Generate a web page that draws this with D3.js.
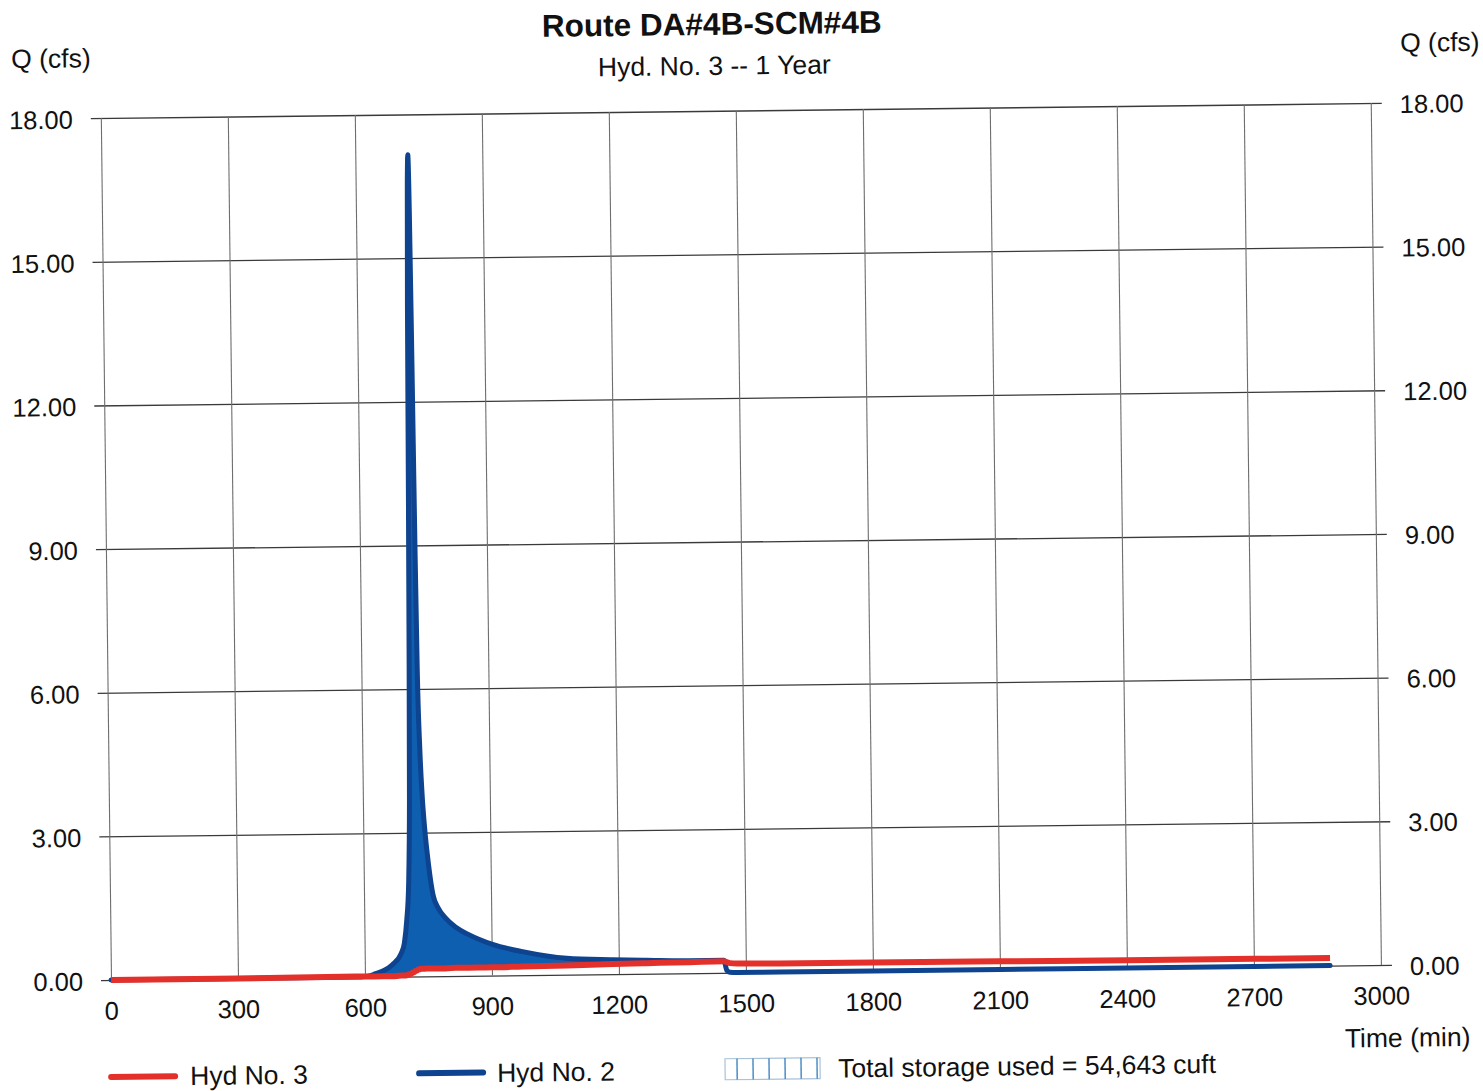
<!DOCTYPE html>
<html>
<head>
<meta charset="utf-8">
<script src="https://cdn.jsdelivr.net/npm/d3@7"></script>
<style>
  body { margin: 0; background: #fff; }
  text { font-family: "Liberation Sans", Arial, "DejaVu Sans", sans-serif; fill: #111; }
</style>
</head>
<body>
<svg id="chart" width="1483" height="1091"></svg>
<script>
// ---- chart text ----
const chartTitle = "Route DA#4B-SCM#4B";
const chartSubtitle = "Hyd. No. 3 -- 1 Year";
const yAxisLabel = "Q (cfs)";
const xAxisLabel = "Time (min)";
const legendLabels = ["Hyd No. 3", "Hyd No. 2", "Total storage used = 54,643 cuft"];

// ---- tick values ----
const xTicks = [0, 300, 600, 900, 1200, 1500, 1800, 2100, 2400, 2700, 3000];
const yTicks = [0, 3, 6, 9, 12, 15, 18];

// ---- hydrograph ordinates (time in min, flow in cfs) ----
const timeMin = [0, 300, 580, 600, 610, 620, 645, 665, 686, 694, 700, 706, 710, 713, 716, 719, 722, 724,
  726, 728, 730, 732, 736, 740, 745, 753, 763, 775, 791, 815, 844, 870, 902, 973, 1077, 1185, 1266,
  1367, 1448, 1455, 1462, 1480, 1580, 1800, 2100, 2400, 2700, 2880];
// Hyd No. 2 : inflow
const hydNo2 = [0, 0, 0, 0.01, 0.02, 0.05, 0.13, 0.25, 0.48, 0.70, 1.15, 2.0, 3.7, 6.5, 10.0, 14.0, 16.5, 17.16,
  16.0, 12.8, 9.0, 6.4, 4.7, 3.8, 3.1, 2.35, 1.7, 1.42, 1.22, 1.02, 0.87, 0.76, 0.65, 0.49, 0.34, 0.30, 0.28,
  0.26, 0.26, 0.05, 0.01, 0, 0, 0, 0, 0, 0, 0];
// Hyd No. 3 : routed outflow
const hydNo3 = [0, 0, 0.01, 0.01, 0.01, 0.01, 0.01, 0.01, 0.02, 0.02, 0.03, 0.05, 0.06, 0.08, 0.09, 0.11, 0.12, 0.13,
  0.14, 0.15, 0.15, 0.16, 0.16, 0.16, 0.16, 0.16, 0.16, 0.16, 0.16, 0.17, 0.17, 0.17, 0.17, 0.18, 0.19, 0.21, 0.22,
  0.23, 0.24, 0.22, 0.20, 0.19, 0.18, 0.18, 0.17, 0.16, 0.16, 0.16];

const rows = timeMin.map((t, i) => ({ t, inflow: hydNo2[i], outflow: hydNo3[i] }));

// ---- layout ----
const plotLeft = 111, plotRight = 1381, plotTop = 118, plotBottom = 980;
const redColor = "#e3302b", navy = "#0d438f", fillBlue = "#0f5fb0";

const svg = d3.select("#chart");
// the whole sheet sits with a slight counter-clockwise tilt
const g = svg.append("g").attr("transform", `rotate(-0.676, ${plotLeft}, ${plotBottom})`);

const x = d3.scaleLinear().domain([0, 3000]).range([plotLeft, plotRight]);
const y = d3.scaleLinear().domain([0, 18]).range([plotBottom, plotTop]);
const fmt = d3.format(".2f");
const fontFam = "'Liberation Sans', Arial, sans-serif";

// horizontal grid lines (extend past the frame as ticks on both sides)
g.append("g")
  .attr("transform", `translate(${plotLeft - 10},0)`)
  .call(d3.axisRight(y).tickValues(yTicks).tickSize(plotRight - plotLeft + 21).tickFormat(""))
  .call(a => a.select(".domain").remove())
  .call(a => a.selectAll("line").attr("stroke", "#3a3a3a").attr("stroke-width", 1.3));

// vertical grid lines + time labels
g.append("g")
  .attr("transform", `translate(0,${plotBottom})`)
  .call(d3.axisBottom(x).tickValues(xTicks).tickSize(-(plotBottom - plotTop)).tickPadding(21.5).tickFormat(d3.format("d")))
  .call(a => a.select(".domain").remove())
  .call(a => a.selectAll("line").attr("stroke", "#6e6e6e").attr("stroke-width", 1.1))
  .call(a => a.selectAll("text").attr("font-size", 25.5).attr("fill", "#111").style("font-family", fontFam));

// left and right flow labels
g.append("g")
  .attr("transform", `translate(${plotLeft},0)`)
  .call(d3.axisLeft(y).tickValues(yTicks).tickSize(0).tickPadding(28).tickFormat(fmt))
  .call(a => a.select(".domain").remove())
  .call(a => a.selectAll("text").attr("font-size", 25.5).attr("dy", "0.38em").attr("fill", "#111").style("font-family", fontFam));
g.append("g")
  .attr("transform", `translate(${plotRight},0)`)
  .call(d3.axisRight(y).tickValues(yTicks).tickSize(0).tickPadding(29).tickFormat(fmt))
  .call(a => a.select(".domain").remove())
  .call(a => a.selectAll("text").attr("font-size", 25.5).attr("dy", "0.38em").attr("fill", "#111").style("font-family", fontFam));

// storage area: between the inflow and outflow where inflow is higher
const storageArea = d3.area()
  .curve(d3.curveMonotoneX)
  .x(d => x(d.t))
  .y0(d => y(d.outflow))
  .y1(d => y(Math.max(d.inflow, d.outflow)));
g.append("path").datum(rows)
  .attr("d", storageArea)
  .attr("fill", fillBlue);

const lineOf = key => d3.line().curve(d3.curveMonotoneX).x(d => x(d.t)).y(d => y(d[key]));
g.append("path").datum(rows)
  .attr("d", lineOf("inflow"))
  .attr("fill", "none").attr("stroke", navy).attr("stroke-width", 5)
  .attr("stroke-linejoin", "round").attr("stroke-linecap", "round");
g.append("path").datum(rows)
  .attr("d", lineOf("outflow"))
  .attr("fill", "none").attr("stroke", redColor).attr("stroke-width", 6)
  .attr("stroke-linejoin", "round");

// titles and axis captions
g.append("text").attr("x", 723).attr("y", 42).attr("text-anchor", "middle")
  .attr("font-size", 31.5).attr("font-weight", "bold").text(chartTitle);
g.append("text").attr("x", 725).attr("y", 82).attr("text-anchor", "middle")
  .attr("font-size", 26.5).text(chartSubtitle);
g.append("text").attr("x", 22).attr("y", 67).attr("font-size", 26.5).text(yAxisLabel);
g.append("text").attr("x", 1411).attr("y", 67).attr("font-size", 26.5).text(yAxisLabel);
g.append("text").attr("x", 1344).attr("y", 1062).attr("font-size", 26.5).text(xAxisLabel);

// legend
const lg = g.append("g");
lg.append("line").attr("x1", 110).attr("x2", 174).attr("y1", 1077).attr("y2", 1077)
  .attr("stroke", redColor).attr("stroke-width", 6).attr("stroke-linecap", "round");
lg.append("text").attr("x", 189).attr("y", 1086).attr("font-size", 26.5).text(legendLabels[0]);
lg.append("line").attr("x1", 418).attr("x2", 482).attr("y1", 1077).attr("y2", 1077)
  .attr("stroke", navy).attr("stroke-width", 6).attr("stroke-linecap", "round");
lg.append("text").attr("x", 496).attr("y", 1086.5).attr("font-size", 26.5).text(legendLabels[1]);
lg.append("rect").attr("x", 724).attr("y", 1066).attr("width", 95).attr("height", 21)
  .attr("fill", "#fff").attr("stroke", "#a9c2d8").attr("stroke-width", 1.2);
lg.selectAll("line.hatch").data(d3.range(6)).join("line")
  .attr("class", "hatch")
  .attr("x1", i => 736 + i * 16).attr("x2", i => 736 + i * 16)
  .attr("y1", 1066).attr("y2", 1087)
  .attr("stroke", "#3f86c4").attr("stroke-width", 1.4);
lg.append("text").attr("x", 837).attr("y", 1086).attr("font-size", 26.5).text(legendLabels[2]);
</script>
</body>
</html>
